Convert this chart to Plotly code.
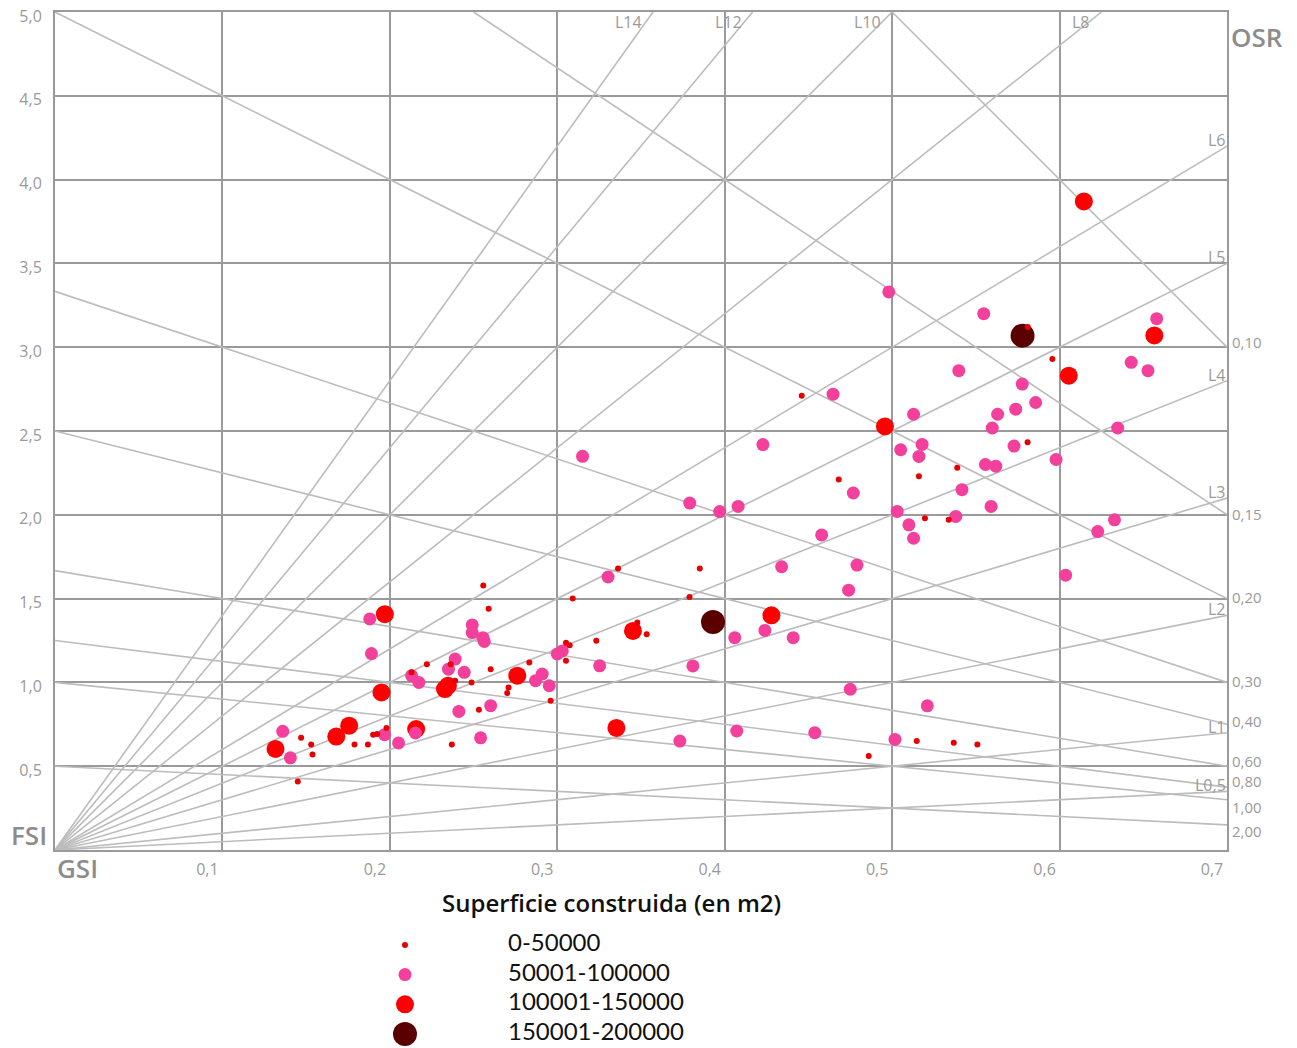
import plotly.graph_objects as go

# ---------------- data (GSI, FSI) per size class ----------------
categories = ["0-50000", "50001-100000", "100001-150000", "150001-200000"]

gsi_c1 = [0.581, 0.5957, 0.446, 0.5809, 0.5389, 0.516, 0.4681, 0.5196, 0.5338, 0.3851,
          0.379, 0.5147, 0.5368, 0.5509, 0.486, 0.3363, 0.2558, 0.259, 0.3092, 0.3478,
          0.3534, 0.3233, 0.3052, 0.3074, 0.3052, 0.2221, 0.2363, 0.213, 0.2602, 0.2488,
          0.239, 0.2833, 0.2709, 0.2701, 0.296, 0.2532, 0.147, 0.153, 0.1538, 0.1789,
          0.1869, 0.19, 0.1924, 0.198, 0.237, 0.145]
fsi_c1 = [3.12, 2.93, 2.71, 2.433, 2.28, 2.23, 2.21, 1.98, 1.97, 1.68,
          1.51, 0.65, 0.64, 0.63, 0.561, 1.679, 1.578, 1.44, 1.5, 1.357,
          1.287, 1.248, 1.237, 1.222, 1.129, 1.109, 1.109, 1.06, 1.079, 1.0,
          1.01, 1.119, 0.97, 0.936, 0.891, 0.837, 0.669, 0.629, 0.57, 0.629,
          0.629, 0.688, 0.692, 0.728, 0.629, 0.409]

gsi_c2 = [0.498, 0.5547, 0.658, 0.5398, 0.6428, 0.6528, 0.5777, 0.4647, 0.5857, 0.563,
          0.5738, 0.5128, 0.5598, 0.6347, 0.4228, 0.5179, 0.5051, 0.516, 0.5728, 0.5979,
          0.5557, 0.5619, 0.4768, 0.5417, 0.3791, 0.397, 0.408, 0.503, 0.5591, 0.538,
          0.51, 0.5128, 0.6328, 0.6228, 0.4579, 0.434, 0.479, 0.6036, 0.474, 0.424,
          0.406, 0.4409, 0.381, 0.475, 0.521, 0.3732, 0.4072, 0.4538, 0.5017,
          0.3151, 0.3303, 0.188, 0.189, 0.2492, 0.2492, 0.2556, 0.2564, 0.303, 0.300,
          0.239, 0.3253, 0.235, 0.2444, 0.213, 0.2173, 0.291, 0.287, 0.2952, 0.2412,
          0.2602, 0.136, 0.1406, 0.1968, 0.2052, 0.2153, 0.2542]
fsi_c2 = [3.33, 3.20, 3.17, 2.86, 2.91, 2.86, 2.78, 2.72, 2.67, 2.60,
          2.63, 2.60, 2.518, 2.518, 2.419, 2.42, 2.388, 2.348, 2.41, 2.33,
          2.30, 2.29, 2.13, 2.15, 2.07, 2.019, 2.05, 2.02, 2.05, 1.99,
          1.94, 1.86, 1.97, 1.90, 1.88, 1.69, 1.70, 1.64, 1.55, 1.31,
          1.267, 1.267, 1.098, 0.959, 0.86, 0.65, 0.71, 0.70, 0.66,
          2.349, 1.629, 1.379, 1.172, 1.343, 1.297, 1.267, 1.244, 1.188, 1.17,
          1.139, 1.099, 1.079, 1.06, 1.04, 1.0, 1.05, 1.01, 0.98, 0.827,
          0.861, 0.708, 0.55, 0.688, 0.639, 0.698, 0.669]

gsi_c3 = [0.6145, 0.6566, 0.6055, 0.4957, 0.4279, 0.3452, 0.197, 0.2329, 0.2347, 0.2761,
          0.195, 0.1317, 0.168, 0.1757, 0.2157, 0.3353]
fsi_c3 = [3.87, 3.07, 2.83, 2.527, 1.40, 1.307, 1.407, 0.96, 0.98, 1.04,
          0.94, 0.603, 0.677, 0.742, 0.722, 0.728]

gsi_c4 = [0.5779, 0.393]
fsi_c4 = [3.069, 1.361]

# reference lines
L_values = [0.5, 1, 2, 3, 4, 5, 6, 8, 10, 12, 14]
L_labels = ["L0,5", "L1", "L2", "L3", "L4", "L5", "L6", "L8", "L10", "L12", "L14"]
OSR_values = [0.10, 0.15, 0.20, 0.30, 0.40, 0.60, 0.80, 1.00, 2.00]
OSR_labels = ["0,10", "0,15", "0,20", "0,30", "0,40", "0,60", "0,80", "1,00", "2,00"]
OSR_label_shift = [5, 1, 2, 1, 3, 5, 6, -7, -6]

x_ticks = [0.1, 0.2, 0.3, 0.4, 0.5, 0.6, 0.7]
x_ticktext = ["0,1", "0,2", "0,3", "0,4", "0,5", "0,6", "0,7"]
y_ticks = [0.5, 1.0, 1.5, 2.0, 2.5, 3.0, 3.5, 4.0, 4.5, 5.0]
y_ticktext = ["0,5", "1,0", "1,5", "2,0", "2,5", "3,0", "3,5", "4,0", "4,5", "5,0"]

XMAX, YMAX = 0.7, 5.0

# ---------------- styles ----------------
colors = ["#e60000", "#f2409c", "#ff0000", "#5a0000"]
sizes = [6, 13, 18, 24]
GRID = "#9a9a9a"
DIAG = "#bcbcbc"
LABEL = "#9a9a9a"
FONT = "Open Sans"

fig = go.Figure()

# L lines (FSI = L * GSI)
for L in L_values:
    if L * XMAX <= YMAX:
        xe, ye = XMAX, L * XMAX
    else:
        xe, ye = YMAX / L, YMAX
    fig.add_trace(go.Scatter(x=[0, xe], y=[0, ye], mode="lines",
                             line=dict(color=DIAG, width=1.6),
                             hoverinfo="skip", showlegend=False))

# OSR lines (FSI = (1-GSI)/OSR)
for o in OSR_values:
    x0 = max(0.0, 1 - YMAX * o)
    y0 = (1 - x0) / o
    fig.add_trace(go.Scatter(x=[x0, XMAX], y=[y0, (1 - XMAX) / o], mode="lines",
                             line=dict(color=DIAG, width=1.6),
                             hoverinfo="skip", showlegend=False))

# data points (drawing order: largest first)
series = [(gsi_c1, fsi_c1), (gsi_c2, fsi_c2), (gsi_c3, fsi_c3), (gsi_c4, fsi_c4)]
for idx in [3, 2, 1, 0]:
    gx, gy = series[idx]
    fig.add_trace(go.Scatter(x=gx, y=gy, mode="markers", name=categories[idx],
                             marker=dict(color=colors[idx], size=sizes[idx], opacity=1,
                                         line=dict(width=0)),
                             showlegend=False, cliponaxis=False))

# manual legend on its own axes
idxs = list(range(len(categories)))
fig.add_trace(go.Scatter(x=[0] * 4, y=idxs, mode="markers", xaxis="x2", yaxis="y2",
                         marker=dict(color=colors, size=sizes, opacity=1, line=dict(width=0)),
                         hoverinfo="skip", showlegend=False, cliponaxis=False))
fig.add_trace(go.Scatter(x=[1] * 4, y=idxs, mode="text", text=categories, xaxis="x2", yaxis="y2",
                         textposition="middle right",
                         textfont=dict(family="Lato", size=24, color="#111111"),
                         hoverinfo="skip", showlegend=False, cliponaxis=False))

annotations = []
# L labels
for L, lab in zip(L_values, L_labels):
    if L * XMAX <= YMAX:
        annotations.append(dict(x=XMAX, y=L * XMAX, xref="x", yref="y", text=lab,
                                showarrow=False, xanchor="right", yanchor="middle",
                                yshift=6, xshift=1,
                                font=dict(family=FONT, size=16, color=LABEL)))
    else:
        annotations.append(dict(x=YMAX / L, y=YMAX, xref="x", yref="y", text=lab,
                                showarrow=False, xanchor="right", yanchor="top",
                                xshift=-9, yshift=3,
                                font=dict(family=FONT, size=16, color=LABEL)))
# OSR labels
for o, lab, sh in zip(OSR_values, OSR_labels, OSR_label_shift):
    annotations.append(dict(x=XMAX, y=(1 - XMAX) / o, xref="x", yref="y", text=lab,
                            showarrow=False, xanchor="left", yanchor="middle",
                            xshift=3, yshift=sh,
                            font=dict(family=FONT, size=15, color=LABEL)))

big = dict(family=FONT, size=26, color="#8c8c8c", weight=600)
annotations += [
    dict(x=-0.0222, y=0.1979, xref="paper", yref="paper", text="FSI", showarrow=False,
         xanchor="center", yanchor="middle", font=big),
    dict(x=0.0196, y=0.1657, xref="paper", yref="paper", text="GSI", showarrow=False,
         xanchor="center", yanchor="middle", font=big),
    dict(x=1.0256, y=0.9756, xref="paper", yref="paper", text="OSR", showarrow=False,
         xanchor="center", yanchor="middle", font=big),
    dict(x=0.475, y=0.1316, xref="paper", yref="paper", text="Superficie construida (en m2)",
         showarrow=False, xanchor="center", yanchor="middle",
         font=dict(family=FONT, size=24, color="#111111", weight=600)),
]

fig.update_layout(
    width=1297, height=1048,
    margin=dict(l=55, r=70, t=12, b=10, autoexpand=False),
    paper_bgcolor="white", plot_bgcolor="white",
    showlegend=False,
    font=dict(family=FONT),
    xaxis=dict(range=[0, XMAX], domain=[0, 1], anchor="y", automargin=False,
               tickvals=x_ticks, ticktext=x_ticktext,
               showgrid=True, gridcolor=GRID, gridwidth=2, zeroline=False,
               showline=True, mirror=True, linecolor=GRID, linewidth=2,
               ticks="", ticklabelshift=-15, ticklabelstandoff=4, ticklabeloverflow="allow",
               tickfont=dict(family=FONT, size=16, color=LABEL), fixedrange=True),
    yaxis=dict(range=[0, YMAX], domain=[0.18324, 1], anchor="x", automargin=False,
               tickvals=y_ticks, ticktext=y_ticktext,
               showgrid=True, gridcolor=GRID, gridwidth=2, zeroline=False,
               showline=True, mirror=True, linecolor=GRID, linewidth=2,
               ticks="", ticklabelshift=4, ticklabelstandoff=8, ticklabeloverflow="allow",
               tickfont=dict(family=FONT, size=16, color=LABEL), fixedrange=True),
    xaxis2=dict(range=[-3.398, 7.981], domain=[0, 1], anchor="y2", visible=False,
                automargin=False, fixedrange=True),
    yaxis2=dict(range=[3.136, -1.515], domain=[0, 0.1345], anchor="x2", visible=False,
                automargin=False, fixedrange=True),
    annotations=annotations,
)

fig.write_html("out.html")
